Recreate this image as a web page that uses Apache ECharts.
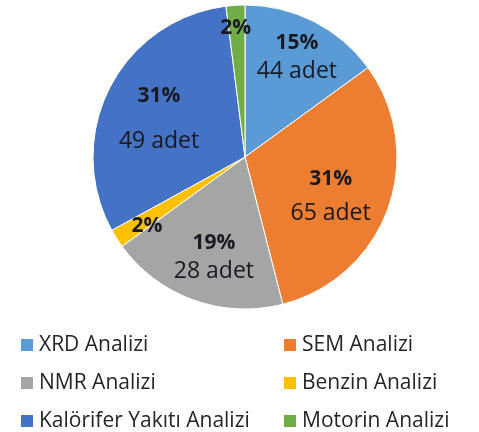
<!DOCTYPE html>
<html lang="tr">
<head>
  <meta charset="UTF-8">
  <title>Analiz dağılımı</title>
  <script src="https://cdn.jsdelivr.net/npm/echarts@6/dist/echarts.min.js"></script>
  <style type="text/css">
    html, body { margin: 0; padding: 0; background: #ffffff; }
    #pasta { width: 479px; height: 432px; }
  </style>
</head>
<body>
<div id="pasta"></div>
<script type="text/javascript">
// veriler
var analizler = ['XRD Analizi', 'SEM Analizi', 'NMR Analizi', 'Benzin Analizi', 'Kalörifer Yakıtı Analizi', 'Motorin Analizi'];
var yuzdeler = [15, 31, 19, 2, 31, 2];
var adetler = [44, 65, 28, null, 49, null];
var renkler = ['#5B9BD5', '#ED7D31', '#A5A5A5', '#FFC000', '#4472C4', '#70AD47'];

// etiket yerleşimi (yarıçap oranı, açı kayması, satır aralığı)
var R = 152;
var etiketOran = [0.72, 0.6, 0.67, 0.77, 0.6, 0.83];
var etiketKayma = [0.5, 5, -2.6, -3, -3, -0.5];
var satirAraligi = [28, 34, 28, 28, 46, 28];

var toplam = yuzdeler.reduce(function (a, b) { return a + b; }, 0);
var ortaAcilar = [];
var birikim = 0;
for (var i = 0; i < yuzdeler.length; i++) {
  ortaAcilar.push((birikim + yuzdeler[i] / 2) / toplam * 360);
  birikim += yuzdeler[i];
}

var veri = analizler.map(function (ad, i) {
  return {
    name: ad,
    value: yuzdeler[i],
    itemStyle: { color: renkler[i] },
    label: {
      rich: {
        p: { fontFamily: 'Open Sans', fontWeight: 'bold', fontSize: 21, color: '#1a1a22', lineHeight: satirAraligi[i] },
        c: { fontFamily: 'Open Sans', fontSize: 23, color: '#1a1a22', lineHeight: satirAraligi[i] }
      }
    }
  };
});

var lejantYazi = { fontFamily: 'Open Sans', fontSize: 21, color: '#262626', lineHeight: 24 };

var myChart = echarts.init(document.getElementById('pasta'));
var option = {
  animation: false,
  legend: [
    {
      data: [analizler[0], analizler[2], analizler[4]],
      orient: 'vertical',
      left: 19,
      top: 333,
      height: 120,
      icon: 'rect',
      itemWidth: 14,
      itemHeight: 14,
      itemGap: 14,
      padding: 0,
      textStyle: lejantYazi
    },
    {
      data: [analizler[1], analizler[3], analizler[5]],
      orient: 'vertical',
      left: 282,
      top: 333,
      height: 120,
      icon: 'rect',
      itemWidth: 14,
      itemHeight: 14,
      itemGap: 14,
      padding: 0,
      textStyle: lejantYazi
    }
  ],
  series: [
    {
      name: 'Analizler',
      type: 'pie',
      center: [245, 157],
      radius: [0, R],
      startAngle: 90,
      clockwise: true,
      avoidLabelOverlap: false,
      itemStyle: { borderColor: '#ffffff', borderWidth: 1 },
      label: {
        show: true,
        position: 'inside',
        formatter: function (p) {
          var s = '{p|' + p.value + '%}';
          if (adetler[p.dataIndex] != null) {
            s += '\n{c|' + adetler[p.dataIndex] + ' adet}';
          }
          return s;
        }
      },
      labelLine: { show: false },
      labelLayout: function (params) {
        var i = params.dataIndex;
        var orta = ortaAcilar[i] * Math.PI / 180;
        var hedef = (ortaAcilar[i] + etiketKayma[i]) * Math.PI / 180;
        var f = etiketOran[i];
        return {
          dx: R * (f * Math.sin(hedef) - 0.5 * Math.sin(orta)),
          dy: -R * (f * Math.cos(hedef) - 0.5 * Math.cos(orta))
        };
      },
      emphasis: { disabled: true },
      data: veri
    }
  ]
};
myChart.setOption(option);
</script>
</body>
</html>
